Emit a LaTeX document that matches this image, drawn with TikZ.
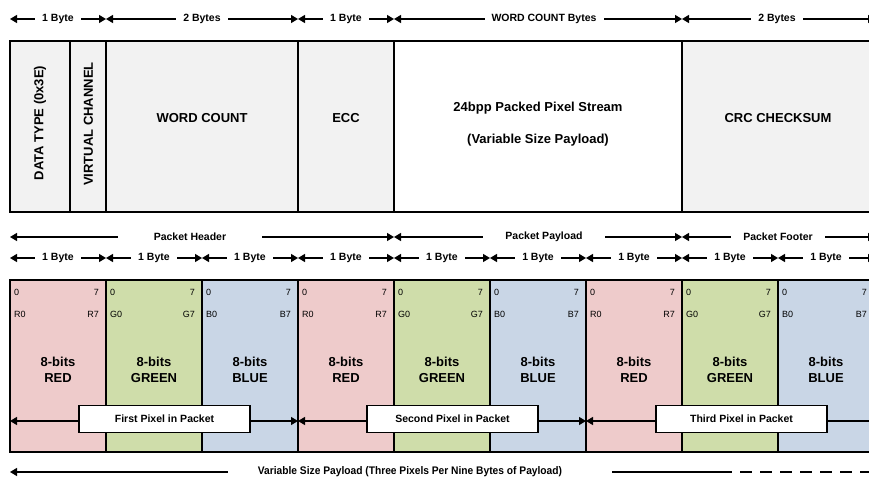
\documentclass[tikz,border=0pt]{standalone}
\usepackage{fontspec}
\setmainfont{Liberation Sans}
\usetikzlibrary{arrows.meta}
\definecolor{hdrgray}{HTML}{F2F2F2}
\definecolor{pxred}{HTML}{EECBCB}
\definecolor{pxgreen}{HTML}{CFDDAA}
\definecolor{pxblue}{HTML}{C9D6E6}
\tikzset{
  tipA/.tip={Triangle[length=7pt,width=8pt]},
  dimarrow/.style={line width=1.3pt,tipA-tipA},
  lbl/.style={fill=white,font=\fontsize{10.5}{12}\selectfont\bfseries,inner ysep=1pt,inner xsep=7pt},
  field/.style={draw,line width=1.5pt,fill=hdrgray,minimum height=171,inner sep=0pt},
  bigtxt/.style={font=\fontsize{13}{16}\selectfont\bfseries,align=center,inner sep=0pt},
  smalltxt/.style={font=\fontsize{9}{10}\selectfont,inner sep=0pt},
  pxbox/.style={draw,line width=1.5pt,minimum width=96,minimum height=172,inner sep=0pt},
  pixlbl/.style={draw,line width=1.3pt,fill=white,minimum width=171,minimum height=27,font=\fontsize{10.5}{12}\selectfont\bfseries,inner sep=0pt},
}
\begin{document}
\begin{tikzpicture}[x=1pt,y=-1pt]
\useasboundingbox (0,0) rectangle (869,479);
\clip (0,0) rectangle (869,479);

% ---------- top byte-count row ----------
\coordinate (t0) at (10,19);
\coordinate (t1) at (106,19);
\coordinate (t2) at (298,19);
\coordinate (t3) at (394,19);
\coordinate (t4) at (682,19);
\coordinate (t5) at (875,19);
\draw[dimarrow] (t0) -- (t1);
\draw[dimarrow] (t1) -- (t2);
\draw[dimarrow] (t2) -- (t3);
\draw[dimarrow] (t3) -- (t4);
\draw[dimarrow] (t4) -- (t5);
\node[lbl] (tl1) at (58,19) {1 Byte};
\node[lbl] (tl2) at (202,19) {2 Bytes};
\node[lbl] (tl3) at (346,19) {1 Byte};
\node[lbl] (tl4) at (544,19) {WORD COUNT Bytes};
\node[lbl] (tl5) at (777,19) {2 Bytes};

% ---------- packet fields ----------
\node[field,minimum width=60] (dt) at (40,126.5) {};
\node[field,minimum width=36] (vc) at (88,126.5) {};
\node[field,minimum width=192] (wc) at (202,126.5) {};
\node[field,minimum width=96] (ecc) at (346,126.5) {};
\node[field,minimum width=288,fill=white] (pl) at (538,126.5) {};
\node[field,minimum width=192] (crc) at (778,126.5) {};
\node[bigtxt,rotate=90] (dtt) at (40,123) {DATA TYPE (0x3E)};
\node[bigtxt,rotate=90] (vct) at (88.5,124) {VIRTUAL CHANNEL};
\node[bigtxt] (wct) at (202,118) {WORD COUNT};
\node[bigtxt] (ecct) at (346,118) {ECC};
\node[bigtxt] (plt1) at (538,108) {24bpp Packed Pixel Stream};
\node[bigtxt] (plt2) at (538,140) {(Variable Size Payload)};
\node[bigtxt] (crct) at (778,118) {CRC CHECKSUM};

% ---------- header / payload / footer row ----------
\coordinate (s0) at (10,237);
\coordinate (s1) at (394,237);
\coordinate (s2) at (682,237);
\coordinate (s3) at (875,237);
\draw[dimarrow] (s0) -- (s1);
\draw[dimarrow] (s1) -- (s2);
\draw[dimarrow] (s2) -- (s3);
\node[lbl,inner xsep=36pt] (sl1) at (190,237) {Packet Header};
\node[lbl,inner xsep=22pt] (sl2) at (544,237) {Packet Payload};
\node[lbl,inner xsep=12pt] (sl3) at (778,237) {Packet Footer};

% ---------- per-byte row ----------
\foreach \i in {0,...,8} {
  \coordinate (b\i) at ({10+96*\i},258);
}
\coordinate (b9) at (875,258);
\foreach \i [evaluate=\i as \j using int(\i+1)] in {0,...,8} {
  \draw[dimarrow] (b\i) -- (b\j);
  \node[lbl] (bl\i) at ({58+96*\i},258) {1 Byte};
}

% ---------- pixel bytes ----------
\foreach \i/\c/\L/\n in {0/pxred/R/RED,1/pxgreen/G/GREEN,2/pxblue/B/BLUE,
                         3/pxred/R/RED,4/pxgreen/G/GREEN,5/pxblue/B/BLUE,
                         6/pxred/R/RED,7/pxgreen/G/GREEN,8/pxblue/B/BLUE} {
  \node[pxbox,fill=\c] (px\i) at ({58+96*\i},366) {};
  \node[smalltxt,anchor=west] (pz\i) at ({14+96*\i},292) {0};
  \node[smalltxt,anchor=east] (ps\i) at ({99+96*\i},292) {7};
  \node[smalltxt,anchor=west] (pa\i) at ({14+96*\i},314) {\L0};
  \node[smalltxt,anchor=east] (pb\i) at ({99+96*\i},314) {\L7};
  \node[bigtxt] (pt\i) at ({58+96*\i},370) {8-bits\\\n};
}

% ---------- pixel spans ----------
\coordinate (q0) at (10,421);
\coordinate (q1) at (298,421);
\coordinate (q2) at (586,421);
\coordinate (q3) at (890,421);
\draw[dimarrow] (q0) -- (q1);
\draw[dimarrow] (q1) -- (q2);
\draw[dimarrow] (q2) -- (q3);
\node[pixlbl] (p1) at (164.5,419) {First Pixel in Packet};
\node[pixlbl] (p2) at (452.5,419) {Second Pixel in Packet};
\node[pixlbl] (p3) at (741.5,419) {Third Pixel in Packet};

% ---------- variable size payload ----------
\coordinate (v0) at (10,472);
\coordinate (va) at (228,472);
\coordinate (vb) at (612,472);
\coordinate (v1) at (720,472);
\coordinate (v2) at (880,472);
\draw[line width=1.3pt,tipA-] (v0) -- (va);
\draw[line width=1.3pt] (vb) -- (v1);
\draw[line width=1.3pt,dash pattern=on 12pt off 8pt] (v1) -- (v2);
\node[inner sep=0pt,xscale=0.93,font=\fontsize{11}{12}\selectfont\bfseries] (vl) at (410,472) {Variable Size Payload (Three Pixels Per Nine Bytes of Payload)};
\end{tikzpicture}
\end{document}
